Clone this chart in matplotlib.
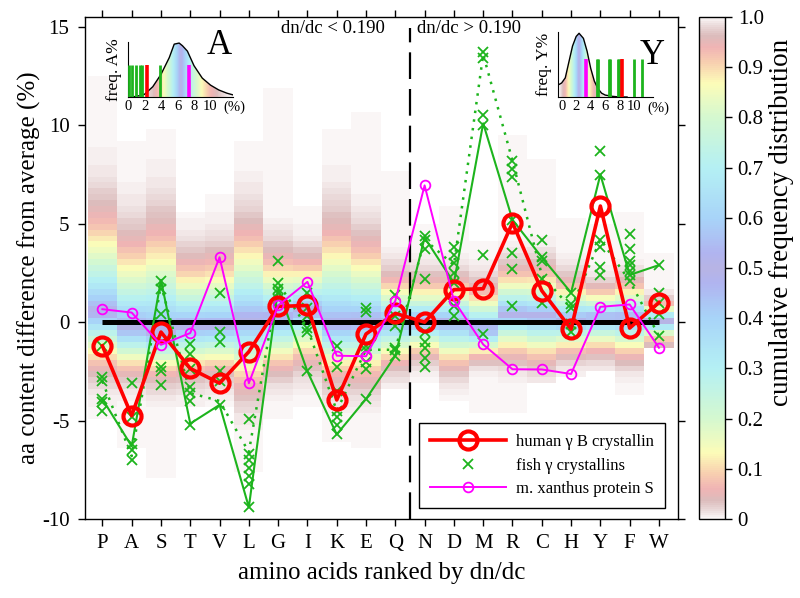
import math
import numpy as np
import matplotlib
matplotlib.use("Agg")
import matplotlib.pyplot as plt
from matplotlib.colors import LinearSegmentedColormap
from matplotlib.lines import Line2D

plt.rcParams['font.family'] = ['Liberation Serif', 'DejaVu Serif']
plt.rcParams['axes.unicode_minus'] = False

# ---- data ----
amino_acids = ['P', 'A', 'S', 'T', 'V', 'L', 'G', 'I', 'K', 'E',
               'Q', 'N', 'D', 'M', 'R', 'C', 'H', 'Y', 'F', 'W']

human_gB = [-1.2, -4.75, -0.5, -2.35, -3.1, -1.5, 0.8, 0.85, -3.95, -0.6,
            0.45, 0.0, 1.65, 1.7, 5.05, 1.6, -0.35, 5.9, -0.3, 1.0]
xanthus_S = [0.66, 0.49, -1.15, -0.55, 3.3, -3.1, 0.85, 2.05, -1.7, -1.73,
             1.08, 6.95, 1.1, -1.13, -2.39, -2.4, -2.63, 0.78, 0.9, -1.3]
fish_solid = [-3.9, -6.3, 2.15, -5.15, -4.2, -9.4, 1.7, -2.5, -5.7, -3.9,
              -1.7, 4.3, 2.0, 10.1, 5.2, 3.3, 1.5, 7.5, 2.4, 2.9]
fish_dotted = [-3.0, -6.8, 1.9, -3.6, -4.0, -6.6, 2.0, -0.3, -4.5, -1.4,
               -1.4, 4.2, 2.9, 13.6, 8.2, 2.4, 0.7, 4.2, 2.1, -0.7]
fish_points = [
    [-1.2, -2.8, -3.0, -3.9, -4.05, -4.5],
    [-3.1, -4.8, -6.2, -6.5, -7.0],
    [2.1, 1.7, 0.4, -2.3, -2.5, -3.2],
    [-1.1, -1.6, -2.4, -3.3, -3.6, -4.0, -5.2],
    [1.5, -0.5, -1.0, -2.5, -3.0, -4.2],
    [-4.9, -6.7, -7.0, -7.4, -7.8, -8.2, -9.4],
    [3.1, 2.0, 1.7, 1.5, 1.2],
    [1.5, 0.7, 0.3, -0.3, -0.5, -2.5],
    [-1.2, -2.3, -3.5, -4.5, -4.8, -5.2, -5.7],
    [0.7, 0.5, -1.2, -1.4, -2.0, -2.4, -3.9],
    [1.4, 0.3, -0.2, -1.3, -1.4, -1.7],
    [4.4, 4.2, 3.7, 2.2, -0.5, -1.0, -1.3, -1.8, -2.3],
    [3.8, 3.4, 3.0, 2.5, 2.0, 0.8, 0.3],
    [13.7, 13.4, 10.5, 10.0, 3.4, -0.6],
    [8.2, 7.8, 7.4, 5.2, 3.5, 2.7, 0.8],
    [4.2, 3.3, 3.1, 2.2, 1.0],
    [1.5, 0.9, 0.7, -0.1, -0.5],
    [8.7, 7.5, 4.2, 3.8, 2.8, 2.4],
    [4.5, 3.7, 3.1, 2.9, 2.6, 2.4, 2.1],
    [2.9, 1.5, 1.0, 0.4, -0.7],
]

# background: per-residue distribution of content difference (median, yellow bands, extent)
bg_median = [0.5, -0.3, -0.5, -0.2, -0.2, 0.1, 0.2, 0.6, -0.1, 0.0,
             0.0, 0.0, 0.0, -0.4, 0.4, 0.3, 0.1, 0.2, 0.2, 0.05]
bg_low13 = [-1.5, -1.9, -2.1, -1.9, -1.8, -2.3, -1.6, -1.2, -2.0, -2.0,
            -1.5, -1.2, -1.6, -1.4, -1.1, -1.3, -1.1, -1.0, -1.2, -0.7]
bg_high87 = [4.0, 2.8, 3.2, 2.1, 2.2, 3.3, 2.4, 2.4, 3.3, 2.8,
             1.6, 1.5, 1.5, 1.1, 2.0, 2.0, 1.5, 1.3, 1.5, 0.75]
bg_top = [12.4, 9.3, 9.7, 5.5, 6.5, 9.1, 11.9, 6.0, 9.75, 10.8,
          7.6, 5.0, 5.8, 4.2, 9.5, 8.4, 5.3, 5.0, 5.7, 3.65]
bg_bottom = [-5.0, -6.3, -8.0, -4.3, -4.4, -7.7, -4.8, -4.2, -6.0, -6.5,
             -3.5, -3.1, -4.1, -4.5, -4.5, -3.0, -2.8, -2.5, -3.6, -1.4]

# insets: frequency distributions of A% and Y%
A_curve_x = [0, 1, 2, 3, 4, 5, 5.6, 6.2, 6.6, 7.2, 8, 9, 10, 11, 12, 12.7]
A_curve_y = [0.0, 0.01, 0.05, 0.19, 0.42, 0.73, 0.98, 1.0, 0.95, 0.85,
             0.58, 0.35, 0.22, 0.13, 0.07, 0.04]
A_bars_fish = [0.1, 0.5, 1.0, 1.4, 1.75, 3.85]
A_bar_human = 2.25
A_bar_xanthus = 7.45

Y_curve_x = [-0.3, 0, 0.5, 1.0, 1.5, 2.0, 2.4, 3.0, 3.5, 4.0, 4.5, 5.0,
             5.5, 6.0, 7.0, 8.0, 9.0]
Y_curve_y = [0.2, 0.22, 0.3, 0.55, 0.8, 0.95, 1.0, 0.92, 0.72, 0.45, 0.25,
             0.13, 0.06, 0.03, 0.01, 0.0, 0.0]
Y_bars_fish = [4.85, 5.05, 6.45, 6.65, 7.75, 7.95, 9.95, 11.0]
Y_bar_human = 8.3
Y_bar_xanthus = 3.3

GREEN = '#1db41d'
RED = '#ff0000'
MAGENTA = '#ff00ff'

# pastel symmetric rainbow used for the cumulative distribution
cmap_nodes = [
    (0.00, '#faf6f6'), (0.015, '#eadada'), (0.035, '#dcbcbc'), (0.06, '#f0b4b4'),
    (0.09, '#f8d0b0'), (0.13, '#fcfcb8'), (0.20, '#d4f8d0'), (0.30, '#b4f0f4'),
    (0.40, '#a8d4f8'), (0.47, '#b0b4f0'), (0.50, '#b8b4e4'), (0.53, '#b0b4f0'),
    (0.60, '#a8d4f8'), (0.70, '#b4f0f4'), (0.80, '#d4f8d0'), (0.87, '#fcfcb8'),
    (0.91, '#f8d0b0'), (0.94, '#f0b4b4'), (0.965, '#dcbcbc'), (0.985, '#eadada'),
    (1.00, '#faf6f6'),
]
cmap = LinearSegmentedColormap.from_list('cfd', cmap_nodes)
cmap.set_bad((1, 1, 1, 0))

fig = plt.figure(figsize=(8, 5.98), dpi=100)
ax = fig.add_axes([0.106, 0.132, 0.7415, 0.8395])
cax = fig.add_axes([0.874, 0.132, 0.0325, 0.8395])

n = len(amino_acids)
xs = np.arange(n)

# background columns: colour = cumulative fraction of proteins below y
norm_cdf = np.vectorize(lambda z: 0.5 * (1.0 + math.erf(z / math.sqrt(2.0))))
y_edges = np.arange(-10.0, 15.6, 0.3)
y_mid = (y_edges[:-1] + y_edges[1:]) / 2
cdf = np.ma.masked_all((len(y_mid), n))
for i in range(n):
    m = bg_median[i]
    s = np.where(y_mid < m, (m - bg_low13[i]) / 1.126, (bg_high87[i] - m) / 1.126)
    col = norm_cdf((y_mid - m) / s)
    inside = (y_mid <= bg_top[i]) & (y_mid >= bg_bottom[i])
    cdf[inside, i] = col[inside]
mesh = ax.pcolormesh(np.arange(n + 1) - 0.5, y_edges, cdf, cmap=cmap,
                     vmin=0, vmax=1, shading='flat', zorder=0)

ax.hlines(0, 0, n - 1, color='black', lw=3.6, zorder=2)
ax.axvline(10.5, ymin=0, ymax=(14.95 + 10) / 25.5, color='black', lw=1.6,
           dashes=(12, 4.5), zorder=2)

# fish gamma crystallins
for i, pts in enumerate(fish_points):
    ax.plot([i] * len(pts), pts, ls='none', marker='x', ms=7, mew=1.3,
            color=GREEN, zorder=3)
ax.plot(xs, fish_solid, color=GREEN, lw=1.5, zorder=3)
ax.plot(xs, fish_dotted, color=GREEN, lw=1.8, ls=(0, (1, 2.5)), zorder=3)

ax.plot(xs, human_gB, color=RED, lw=2.6, marker='o', ms=13, mfc='none',
        mew=3, zorder=4)
ax.plot(xs, xanthus_S, color=MAGENTA, lw=1.4, marker='o', ms=7, mfc='none',
        mew=1.3, zorder=5)

ax.set_xlim(-0.6, 19.65)
ax.set_ylim(-10, 15.5)
ax.set_xticks(xs)
ax.set_xticklabels(amino_acids)
ax.set_yticks([-10, -5, 0, 5, 10, 15])
ax.tick_params(direction='out', length=5, width=1, labelsize=15,
               top=True, right=True, pad=6)
for sp in ax.spines.values():
    sp.set_linewidth(1)
ax.set_xlabel('amino acids ranked by dn/dc', fontsize=18, labelpad=6)
ax.set_ylabel('aa content difference from average (%)', fontsize=18, labelpad=1)

ax.text(7.87, 14.9, 'dn/dc < 0.190', fontsize=13.5, ha='center', va='center')
ax.text(12.5, 14.9, 'dn/dc > 0.190', fontsize=13.5, ha='center', va='center')
ax.text(4.0, 14.05, 'A', fontsize=25, ha='center', va='center')
ax.text(18.75, 13.55, 'Y', fontsize=25, ha='center', va='center')

handles = [
    Line2D([], [], color=RED, lw=2.6, marker='o', ms=13, mfc='none', mew=3),
    Line2D([], [], color=GREEN, ls='none', marker='x', ms=7, mew=1.3),
    Line2D([], [], color=MAGENTA, lw=1.4, marker='o', ms=7, mfc='none', mew=1.3),
]
labels = ['human \u03b3 B crystallin', 'fish \u03b3 crystallins',
          'm. xanthus protein S']
leg = ax.legend(handles, labels, loc='lower right', bbox_to_anchor=(0.978, 0.022),
                borderaxespad=0, fontsize=12, handlelength=4.6, handletextpad=0.6,
                labelspacing=0.45, numpoints=1, fancybox=False, framealpha=1,
                edgecolor='black', borderpad=0.65)
leg.get_frame().set_linewidth(1)
leg.set_zorder(6)

# colorbar
cb = fig.colorbar(mesh, cax=cax)
cb.set_ticks(np.linspace(0, 1, 11))
cb.set_ticklabels(['0', '0.1', '0.2', '0.3', '0.4', '0.5', '0.6', '0.7',
                   '0.8', '0.9', '1.0'])
cb.outline.set_linewidth(1)
cax.tick_params(direction='out', length=5, width=1, labelsize=15, pad=4)
fig.text(0.977, (598 - 222) / 598, 'cumulative frequency distribution',
         rotation=90, ha='center', va='center', fontsize=19.5)


def draw_inset(rect, cx, cy, xlim, fish, human, xanthus, ylab, pct_x):
    axi = fig.add_axes(rect)
    axi.patch.set_alpha(0)
    cx = np.asarray(cx, float)
    cy = np.asarray(cy, float)
    area = np.concatenate([[0], np.cumsum(np.diff(cx) * (cy[1:] + cy[:-1]) / 2)])
    area /= area[-1]
    gx = np.linspace(cx[0], cx[-1], 300)
    grad = np.interp(gx, cx, area)
    im = axi.imshow(grad[np.newaxis, :], extent=(cx[0], cx[-1], 0, 1),
                    aspect='auto', cmap=cmap, vmin=0, vmax=1, origin='lower',
                    interpolation='bilinear', zorder=1)
    poly = axi.fill_between(cx, 0, cy, color='none', lw=0)
    im.set_clip_path(poly.get_paths()[0], transform=axi.transData)
    axi.plot(cx, cy, color='black', lw=1, zorder=2)
    axi.vlines(fish, 0, 0.6, color=GREEN, lw=2, zorder=3)
    axi.vlines([human], 0, 0.6, color=RED, lw=2.6, zorder=3)
    axi.vlines([xanthus], 0, 0.6, color=MAGENTA, lw=2.6, zorder=3)
    axi.set_xlim(*xlim)
    axi.set_ylim(0, 1.02)
    axi.spines['top'].set_visible(False)
    axi.spines['right'].set_visible(False)
    axi.set_yticks([])
    axi.set_xticks([0, 2, 4, 6, 8, 10])
    axi.tick_params(axis='x', length=0, labelsize=10.5, pad=2)
    axi.text(pct_x, -0.07, '(%)', fontsize=10.5, ha='left', va='top',
             transform=axi.transData)
    axi.set_ylabel(ylab, fontsize=12.5, labelpad=4)
    return axi


draw_inset([0.16, 0.8378, 0.131, 0.092], A_curve_x, A_curve_y, (0, 12.7),
           A_bars_fish, A_bar_human, A_bar_xanthus, 'freq. A%', 11.5)
draw_inset([0.6975, 0.8378, 0.119, 0.1087], Y_curve_x, Y_curve_y, (-0.5, 12.6),
           Y_bars_fish, Y_bar_human, Y_bar_xanthus, 'freq. Y%', 11.8)

fig.savefig('out.png', dpi=100)
